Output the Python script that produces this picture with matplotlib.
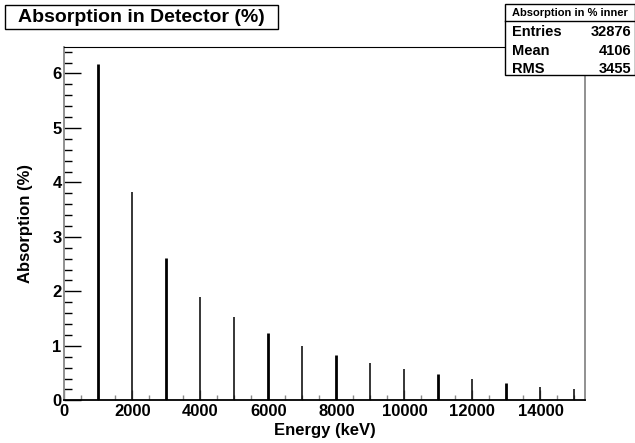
import matplotlib
matplotlib.use("Agg")
import matplotlib.pyplot as plt
from matplotlib.patches import Rectangle
from matplotlib.ticker import MultipleLocator

energies = [1000, 2000, 3000, 4000, 5000, 6000, 7000, 8000, 9000, 10000,
            11000, 12000, 13000, 14000, 15000]
absorption = [6.17, 3.82, 2.62, 1.89, 1.53, 1.23, 1.00, 0.84, 0.68, 0.574,
              0.477, 0.385, 0.317, 0.244, 0.213]
xticks = [0, 2000, 4000, 6000, 8000, 10000, 12000, 14000]
yticks = [0, 1, 2, 3, 4, 5, 6]
stats_labels = ["Entries", "Mean", "RMS"]
stats_values = ["32876", "4106", "3455"]
bar_widths = [2.0, 1.1, 2.0, 1.1, 1.1, 2.0, 1.1, 2.0, 1.1, 1.1, 2.0, 1.1, 2.0, 1.1, 1.1]

W, H = 635, 443
plt.rcParams['font.family'] = ['Liberation Sans', 'DejaVu Sans']
fig = plt.figure(figsize=(W / 100, H / 100), dpi=100)

def fx(px):
    return px / W

def fy(py):
    return 1 - py / H

left, right, top, bottom = 64.3, 585, 47.3, 400.3
ax = fig.add_axes([fx(left), fy(bottom), fx(right) - fx(left), fy(top) - fy(bottom)])

ax.vlines(energies, 0, absorption, colors='black', linewidths=bar_widths)

ax.set_xlim(0, 15310)
ax.set_ylim(0, 6.48)
ax.set_xticks(xticks)
ax.set_yticks(yticks)
ax.xaxis.set_minor_locator(MultipleLocator(500))
ax.yaxis.set_minor_locator(MultipleLocator(0.2))
ax.tick_params(axis='x', which='major', direction='in', length=7.5, width=1, color='#888888',
               labelsize=12, pad=3, top=False)
ax.tick_params(axis='x', which='minor', direction='in', length=3.8, width=1, color='#888888', top=False)
ax.tick_params(axis='y', which='major', direction='in', length=12.2, width=1, color='black',
               labelsize=12, pad=2, right=False)
ax.tick_params(axis='y', which='minor', direction='in', length=5.8, width=1, color='black', right=False)
for lab in ax.get_xticklabels() + ax.get_yticklabels():
    lab.set_fontweight('bold')

ax.spines['left'].set_color('#888888')
ax.spines['left'].set_linewidth(1.3)
ax.spines['right'].set_color('#888888')
ax.spines['right'].set_linewidth(1.3)
ax.spines['top'].set_color('black')
ax.spines['bottom'].set_color('black')
ax.spines['bottom'].set_linewidth(1.3)

ax.set_xlabel("Energy (keV)", fontsize=12, fontweight='bold', labelpad=2.5)
ax.set_ylabel("Absorption (%)", fontsize=12, fontweight='bold', labelpad=14)

# Title box
fig.patches.append(Rectangle((fx(4.5), fy(29.3)), fx(278) - fx(4.5), fy(4.7) - fy(29.3),
                             transform=fig.transFigure, facecolor='white', edgecolor='black',
                             linewidth=1, zorder=5))
fig.text(fx(141), fy(17.5), "Absorption in Detector (%)", fontsize=14, fontweight='bold',
         ha='center', va='center', zorder=6)

# Stats box
fig.patches.append(Rectangle((fx(505), fy(74.5)), fx(634.5) - fx(505), fy(4) - fy(74.5),
                             transform=fig.transFigure, facecolor='white', edgecolor='black',
                             linewidth=1, zorder=5))
fig.lines.append(plt.Line2D([fx(505), fx(634.5)], [fy(20.7), fy(20.7)], transform=fig.transFigure,
                            color='black', linewidth=1, zorder=6))
fig.text(fx(570), fy(12.8), "Absorption in % inner", fontsize=8, fontweight='bold',
         ha='center', va='center', zorder=6)
row_y = [32.3, 50.7, 69]
for lab, val, y in zip(stats_labels, stats_values, row_y):
    fig.text(fx(512), fy(y), lab, fontsize=10.5, fontweight='bold', ha='left', va='center', zorder=6)
    fig.text(fx(631.5), fy(y), val, fontsize=10.5, fontweight='bold', ha='right', va='center', zorder=6)

fig.savefig("out.png", dpi=100)
